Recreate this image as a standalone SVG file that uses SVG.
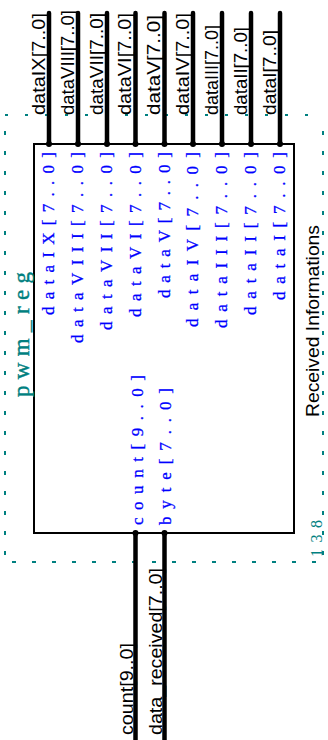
<svg xmlns="http://www.w3.org/2000/svg" width="328" height="740" viewBox="0 0 328 740">
<style>
.frame{stroke:#008080;stroke-width:2;fill:none}
.wire{stroke:#000;stroke-width:4.5;stroke-linecap:round}
.dot{fill:#000}
.lbl{font-family:"Liberation Sans",Arial,sans-serif;font-size:18px;fill:#000}
.pin{font-family:"Liberation Serif","Times New Roman",serif;font-size:17px;fill:#0000ff;stroke:#0000ff;stroke-width:0.3}
.teal{font-family:"Liberation Serif","Times New Roman",serif;fill:#008080}
</style>
<rect width="328" height="740" fill="#fff"/>
<g id="frame">
<line class="frame" x1="5" y1="115" x2="323" y2="115" stroke-dasharray="3 17"/>
<line class="frame" x1="5" y1="131" x2="5" y2="562" stroke-dasharray="4 16"/>
<line class="frame" x1="323" y1="131" x2="323" y2="562" stroke-dasharray="4 16"/>
<line class="frame" x1="12" y1="562" x2="323" y2="562" stroke-dasharray="4 16"/>
</g>
<g id="pwm_reg">
<rect x="34" y="144" width="260" height="389" fill="none" stroke="#000" stroke-width="2"/>
<text class="teal" style="font-size:23px;stroke:#008080;stroke-width:0.4" transform="translate(29,397) rotate(-90)" textLength="125" lengthAdjust="spacing">pwm_reg</text>
<text class="teal" style="font-size:16px" transform="translate(322,557) rotate(-90)" textLength="37" lengthAdjust="spacing">138</text>
<text class="lbl" transform="translate(319,417) rotate(-90)" textLength="192" lengthAdjust="spacingAndGlyphs">Received Informations</text>
<text class="pin" transform="translate(54,315) rotate(-90)" textLength="163" lengthAdjust="spacing">dataIX[7..0]</text>
<text class="pin" transform="translate(83,343) rotate(-90)" textLength="191" lengthAdjust="spacing">dataVIII[7..0]</text>
<text class="pin" transform="translate(112,330) rotate(-90)" textLength="178" lengthAdjust="spacing">dataVII[7..0]</text>
<text class="pin" transform="translate(140.5,317) rotate(-90)" textLength="165" lengthAdjust="spacing">dataVI[7..0]</text>
<text class="pin" transform="translate(169.5,298) rotate(-90)" textLength="146" lengthAdjust="spacing">dataV[7..0]</text>
<text class="pin" transform="translate(198,327) rotate(-90)" textLength="175" lengthAdjust="spacing">dataIV[7..0]</text>
<text class="pin" transform="translate(227,328) rotate(-90)" textLength="176" lengthAdjust="spacing">dataIII[7..0]</text>
<text class="pin" transform="translate(256,315) rotate(-90)" textLength="163" lengthAdjust="spacing">dataII[7..0]</text>
<text class="pin" transform="translate(285,300) rotate(-90)" textLength="148" lengthAdjust="spacing">dataI[7..0]</text>
<text class="pin" transform="translate(143,525) rotate(-90)" textLength="150" lengthAdjust="spacing">count[9..0]</text>
<text class="pin" transform="translate(171,525) rotate(-90)" textLength="137" lengthAdjust="spacing">byte[7..0]</text>
</g>
<g id="connectors">
<line class="wire" x1="49" y1="13" x2="49" y2="144"/>
<line class="wire" x1="78" y1="13" x2="78" y2="144"/>
<line class="wire" x1="107" y1="13" x2="107" y2="144"/>
<line class="wire" x1="135.5" y1="13" x2="135.5" y2="144"/>
<line class="wire" x1="164.5" y1="13" x2="164.5" y2="144"/>
<line class="wire" x1="193" y1="13" x2="193" y2="144"/>
<line class="wire" x1="222" y1="13" x2="222" y2="144"/>
<line class="wire" x1="251" y1="13" x2="251" y2="144"/>
<line class="wire" x1="280" y1="13" x2="280" y2="144"/>
<line class="wire" x1="135.5" y1="533" x2="135.5" y2="745"/>
<line class="wire" x1="164.5" y1="533" x2="164.5" y2="745"/>
<g class="dot">
<circle cx="49" cy="144" r="3"/><circle cx="78" cy="144" r="3"/><circle cx="107" cy="144" r="3"/>
<circle cx="135.5" cy="144" r="3"/><circle cx="164.5" cy="144" r="3"/><circle cx="193" cy="144" r="3"/>
<circle cx="222" cy="144" r="3"/><circle cx="251" cy="144" r="3"/><circle cx="280" cy="144" r="3"/>
<circle cx="135.5" cy="533" r="3"/><circle cx="164.5" cy="533" r="3"/>
</g>
<text class="lbl" transform="translate(44.5,115) rotate(-90)" textLength="102" lengthAdjust="spacingAndGlyphs">dataIX[7..0]</text>
<text class="lbl" transform="translate(73.5,115) rotate(-90)" textLength="105" lengthAdjust="spacingAndGlyphs">dataVIII[7..0]</text>
<text class="lbl" transform="translate(102.5,115) rotate(-90)" textLength="102" lengthAdjust="spacingAndGlyphs">dataVII[7..0]</text>
<text class="lbl" transform="translate(131,115) rotate(-90)" textLength="102" lengthAdjust="spacingAndGlyphs">dataVI[7..0]</text>
<text class="lbl" transform="translate(160,115) rotate(-90)" textLength="100" lengthAdjust="spacingAndGlyphs">dataV[7..0]</text>
<text class="lbl" transform="translate(188.5,115) rotate(-90)" textLength="102" lengthAdjust="spacingAndGlyphs">dataIV[7..0]</text>
<text class="lbl" transform="translate(217.5,115) rotate(-90)" textLength="90" lengthAdjust="spacingAndGlyphs">dataIII[7..0]</text>
<text class="lbl" transform="translate(246.5,115) rotate(-90)" textLength="88" lengthAdjust="spacingAndGlyphs">dataII[7..0]</text>
<text class="lbl" transform="translate(275.5,115) rotate(-90)" textLength="85" lengthAdjust="spacingAndGlyphs">dataI[7..0]</text>
<text class="lbl" transform="translate(133,735) rotate(-90)" textLength="92" lengthAdjust="spacingAndGlyphs">count[9..0]</text>
<text class="lbl" transform="translate(161.5,735) rotate(-90)" textLength="167" lengthAdjust="spacingAndGlyphs">data_received[7..0]</text>
</g>
</svg>
